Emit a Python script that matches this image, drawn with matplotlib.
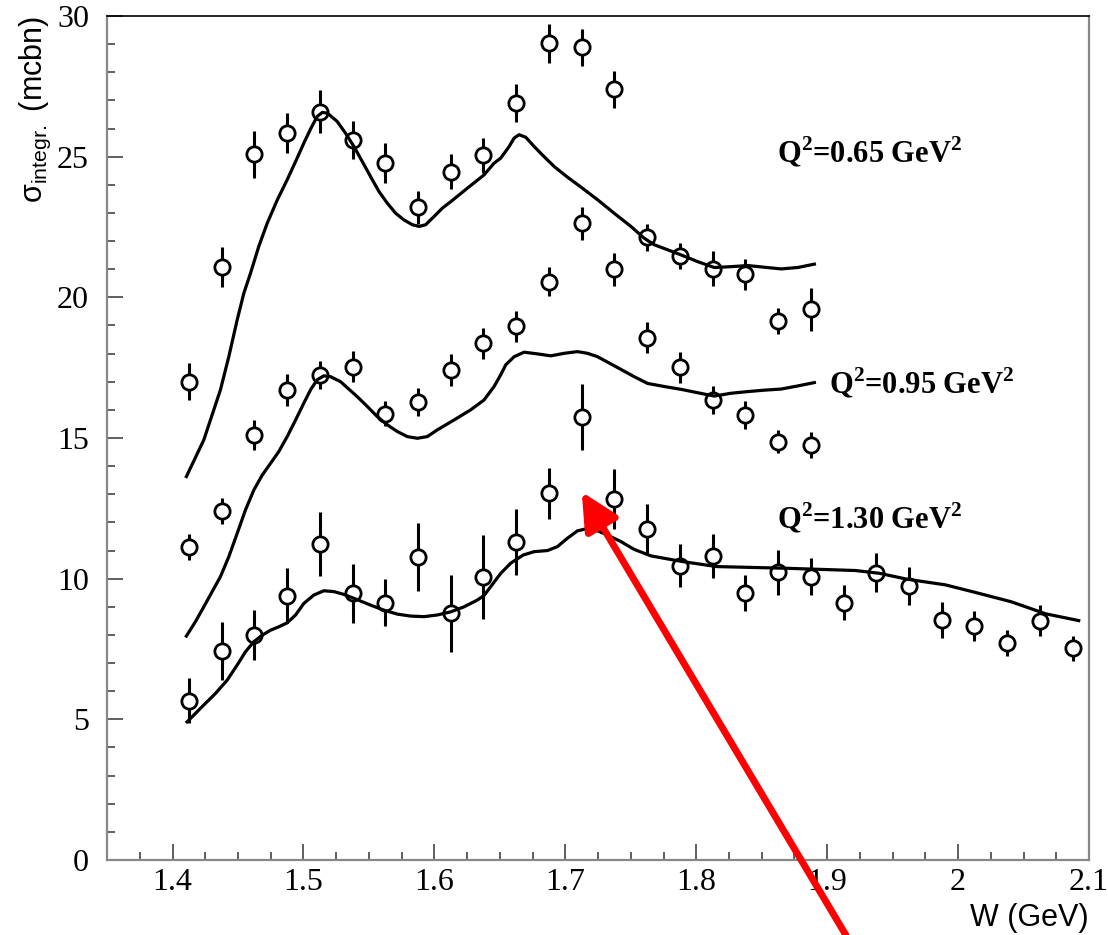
import numpy as np
import matplotlib
matplotlib.use("Agg")
import matplotlib.pyplot as plt
from matplotlib.ticker import MultipleLocator

plt.rcParams['font.family'] = ['Liberation Serif', 'DejaVu Serif']
plt.rcParams['mathtext.fontset'] = 'custom'
plt.rcParams['mathtext.rm'] = 'Liberation Serif'
plt.rcParams['mathtext.bf'] = 'Liberation Serif:bold'
plt.rcParams['mathtext.sf'] = 'Liberation Sans'

# measured points (W in GeV, sigma in mcbn)
w_short = [1.4125, 1.4375, 1.4625, 1.4875, 1.5125, 1.5375, 1.5625, 1.5875, 1.6125, 1.6375,
           1.6625, 1.6875, 1.7125, 1.7375, 1.7625, 1.7875, 1.8125, 1.8375, 1.8625, 1.8875]
w_long = w_short + [1.9125, 1.9375, 1.9625, 1.9875, 2.0125, 2.0375, 2.0625, 2.0875]

sig_065 = [17.0, 21.09, 25.08, 25.83, 26.6, 25.6, 24.79, 23.2, 24.47, 25.05,
           26.9, 29.03, 28.88, 27.39, 22.13, 21.48, 21.02, 20.82, 19.16, 19.57]
err_065 = [0.65, 0.71, 0.83, 0.71, 0.76, 0.68, 0.71, 0.59, 0.62, 0.62,
           0.68, 0.70, 0.67, 0.65, 0.49, 0.46, 0.61, 0.56, 0.46, 0.75]

sig_095 = [11.14, 12.41, 15.11, 16.71, 17.24, 17.54, 15.86, 16.29, 17.42, 18.36,
           18.98, 20.56, 22.63, 20.99, 18.57, 17.51, 16.35, 15.82, 14.87, 14.75]
err_095 = [0.46, 0.47, 0.53, 0.57, 0.50, 0.56, 0.45, 0.50, 0.56, 0.55,
           0.55, 0.53, 0.59, 0.57, 0.55, 0.55, 0.50, 0.49, 0.41, 0.46]

sig_130 = [5.66, 7.43, 8.0, 9.4, 11.23, 9.48, 9.15, 10.78, 8.77, 10.07,
           11.31, 13.03, 15.75, 12.83, 11.77, 10.46, 10.81, 9.5, 10.22, 10.07,
           9.15, 10.21, 9.75, 8.53, 8.33, 7.7, 8.51, 7.52]
err_130 = [0.80, 1.02, 0.89, 0.98, 1.13, 1.05, 0.83, 1.21, 1.37, 1.50,
           1.17, 0.90, 1.17, 1.08, 0.87, 0.76, 0.77, 0.64, 0.79, 0.66,
           0.63, 0.70, 0.68, 0.63, 0.53, 0.46, 0.56, 0.46]

# model curves
fit_w_065 = [1.4106, 1.4239, 1.4366, 1.4430, 1.4494, 1.4545, 1.4596, 1.4659, 1.4723, 1.4800,
             1.4876, 1.4952, 1.5003, 1.5054, 1.5105, 1.5144, 1.5182, 1.5258, 1.5322, 1.5386,
             1.5449, 1.5513, 1.5577, 1.5640, 1.5704, 1.5768, 1.5832, 1.5883, 1.5933, 1.5997,
             1.6061, 1.6125, 1.6252, 1.6379, 1.6456, 1.6507, 1.6571, 1.6609, 1.6647, 1.6698,
             1.6762, 1.6838, 1.6915, 1.7017, 1.7119, 1.7246, 1.7373, 1.7501, 1.7603, 1.7679,
             1.7781, 1.7883, 1.8010, 1.8138, 1.8265, 1.8393, 1.8520, 1.8648, 1.8775, 1.8902]
fit_s_065 = [13.63, 14.93, 16.71, 17.89, 19.2, 20.15, 20.86, 21.81, 22.63, 23.46,
             24.18, 24.95, 25.48, 25.98, 26.43, 26.57, 26.55, 26.25, 25.83, 25.36,
             24.83, 24.29, 23.76, 23.35, 22.99, 22.75, 22.58, 22.52, 22.58, 22.87,
             23.17, 23.4, 23.88, 24.35, 24.77, 24.95, 25.36, 25.66, 25.78, 25.69,
             25.36, 25.0, 24.65, 24.27, 23.92, 23.47, 22.99, 22.52, 22.1, 21.87,
             21.69, 21.51, 21.27, 21.06, 21.09, 21.13, 21.07, 21.01, 21.06, 21.18]

fit_w_095 = [1.4106, 1.4175, 1.4239, 1.4303, 1.4366, 1.4430, 1.4494, 1.4557, 1.4621, 1.4685,
             1.4749, 1.4812, 1.4876, 1.4940, 1.5003, 1.5054, 1.5105, 1.5156, 1.5207, 1.5284,
             1.5411, 1.5488, 1.5564, 1.5640, 1.5717, 1.5793, 1.5870, 1.5946, 1.6023, 1.6150,
             1.6277, 1.6379, 1.6456, 1.6507, 1.6545, 1.6609, 1.6685, 1.6787, 1.6889, 1.6991,
             1.7093, 1.7170, 1.7246, 1.7424, 1.7526, 1.7628, 1.7756, 1.7883, 1.8010, 1.8138,
             1.8265, 1.8393, 1.8520, 1.8648, 1.8775, 1.8902]
fit_s_095 = [7.96, 8.47, 9.0, 9.54, 10.07, 10.78, 11.61, 12.44, 13.15, 13.68,
             14.1, 14.52, 15.05, 15.64, 16.24, 16.71, 17.07, 17.21, 17.18, 17.0,
             16.47, 16.12, 15.76, 15.47, 15.23, 15.05, 14.99, 15.05, 15.29, 15.64,
             16.0, 16.35, 16.83, 17.25, 17.6, 17.89, 18.05, 17.99, 17.92, 18.01,
             18.07, 18.01, 17.89, 17.44, 17.18, 16.94, 16.83, 16.73, 16.61, 16.49,
             16.59, 16.65, 16.70, 16.74, 16.85, 16.97]

fit_w_130 = [1.4111, 1.4175, 1.4239, 1.4328, 1.4417, 1.4494, 1.4557, 1.4621, 1.4685, 1.4749,
             1.4812, 1.4876, 1.4940, 1.5003, 1.5080, 1.5156, 1.5233, 1.5309, 1.5386, 1.5513,
             1.5615, 1.5717, 1.5819, 1.5921, 1.6023, 1.6125, 1.6227, 1.6328, 1.6379, 1.6507,
             1.6583, 1.6678, 1.6762, 1.6864, 1.6940, 1.7017, 1.7093, 1.7157, 1.7233, 1.7322,
             1.7424, 1.7526, 1.7654, 1.7760, 1.7892, 1.8156, 1.8421, 1.8686, 1.8950, 1.9215,
             1.9400, 1.9611, 1.9903, 2.0141, 2.0405, 2.0670, 2.0921]
fit_s_130 = [4.91, 5.21, 5.51, 5.92, 6.39, 6.93, 7.4, 7.76, 7.99, 8.17,
             8.29, 8.43, 8.71, 9.12, 9.42, 9.57, 9.54, 9.44, 9.30, 9.06,
             8.88, 8.74, 8.67, 8.65, 8.71, 8.82, 9.0, 9.24, 9.4, 10.19,
             10.55, 10.84, 10.96, 11.0, 11.14, 11.44, 11.70, 11.77, 11.73, 11.55,
             11.32, 11.04, 10.81, 10.72, 10.61, 10.43, 10.40, 10.37, 10.33, 10.29,
             10.19, 9.98, 9.78, 9.50, 9.18, 8.75, 8.51]

labels = [r'Q$^{\mathbf{2}}$=0.65 GeV$^{\mathbf{2}}$',
          r'Q$^{\mathbf{2}}$=0.95 GeV$^{\mathbf{2}}$',
          r'Q$^{\mathbf{2}}$=1.30 GeV$^{\mathbf{2}}$']
label_pos = [(1.8617, 24.78), (1.9014, 16.59), (1.8617, 11.79)]

fig = plt.figure(figsize=(11.08, 9.35), dpi=100)
ax = fig.add_axes([0.0966, 0.0802, 0.8863, 0.9027])

for w, s, e in [(w_short, sig_065, err_065), (w_short, sig_095, err_095), (w_long, sig_130, err_130)]:
    ax.errorbar(w, s, yerr=e, fmt='o', ms=11, mfc='white', mec='black', mew=2.0,
                ecolor='black', elinewidth=2.2, capsize=0, zorder=3)

for w, s in [(fit_w_065, fit_s_065), (fit_w_095, fit_s_095), (fit_w_130, fit_s_130)]:
    ax.plot(w, s, color='black', lw=2.3, zorder=4, solid_joinstyle='round')

for txt, (x, y) in zip(labels, label_pos):
    ax.text(x, y, txt, fontsize=22, fontweight='bold', ha='left', va='baseline')

# red arrow pointing at the gap near W = 1.71
ax.annotate('', xy=(1.7126, 13.08), xytext=(1.9143, -2.67),
            arrowprops=dict(arrowstyle='-|>,head_length=0.9,head_width=0.45',
                            mutation_scale=25, color='#ff0000', lw=5,
                            shrinkA=0, shrinkB=0),
            annotation_clip=False, zorder=5)

ax.set_xlim(1.35, 2.1)
ax.set_ylim(0, 30)
ax.xaxis.set_minor_locator(MultipleLocator(0.025))
ax.yaxis.set_major_locator(MultipleLocator(5))
ax.yaxis.set_minor_locator(MultipleLocator(1))
ax.set_xticks([1.4, 1.5, 1.6, 1.7, 1.8, 1.9, 2.0, 2.1])
ax.set_xticklabels(['1.4', '1.5', '1.6', '1.7', '1.8', '1.9', '2', '2.1'])

ax.tick_params(which='both', direction='in', top=False, right=False, colors='#444444',
               labelcolor='black', labelsize=23)
ax.tick_params(which='major', length=11.5, width=1.2)
ax.tick_params(which='minor', length=6, width=1.2)
ax.tick_params(axis='x', pad=6)
ax.tick_params(axis='y', pad=13)

for side in ['left', 'bottom', 'right']:
    ax.spines[side].set_color('#888888')
    ax.spines[side].set_linewidth(1.6)
ax.spines['top'].set_color('black')
ax.spines['top'].set_linewidth(1.2)

ax.set_xlabel('W (GeV)', fontsize=22, family='Liberation Sans', loc='right')
ax.xaxis.set_label_coords(1.0, -0.051)
ax.set_ylabel(r'σ$_{\mathsf{integr.}}$ (mcbn)', fontsize=22, family='Liberation Sans', loc='top')
ax.yaxis.set_label_coords(-0.055, 1.0)

fig.savefig('out.png', dpi=100)
